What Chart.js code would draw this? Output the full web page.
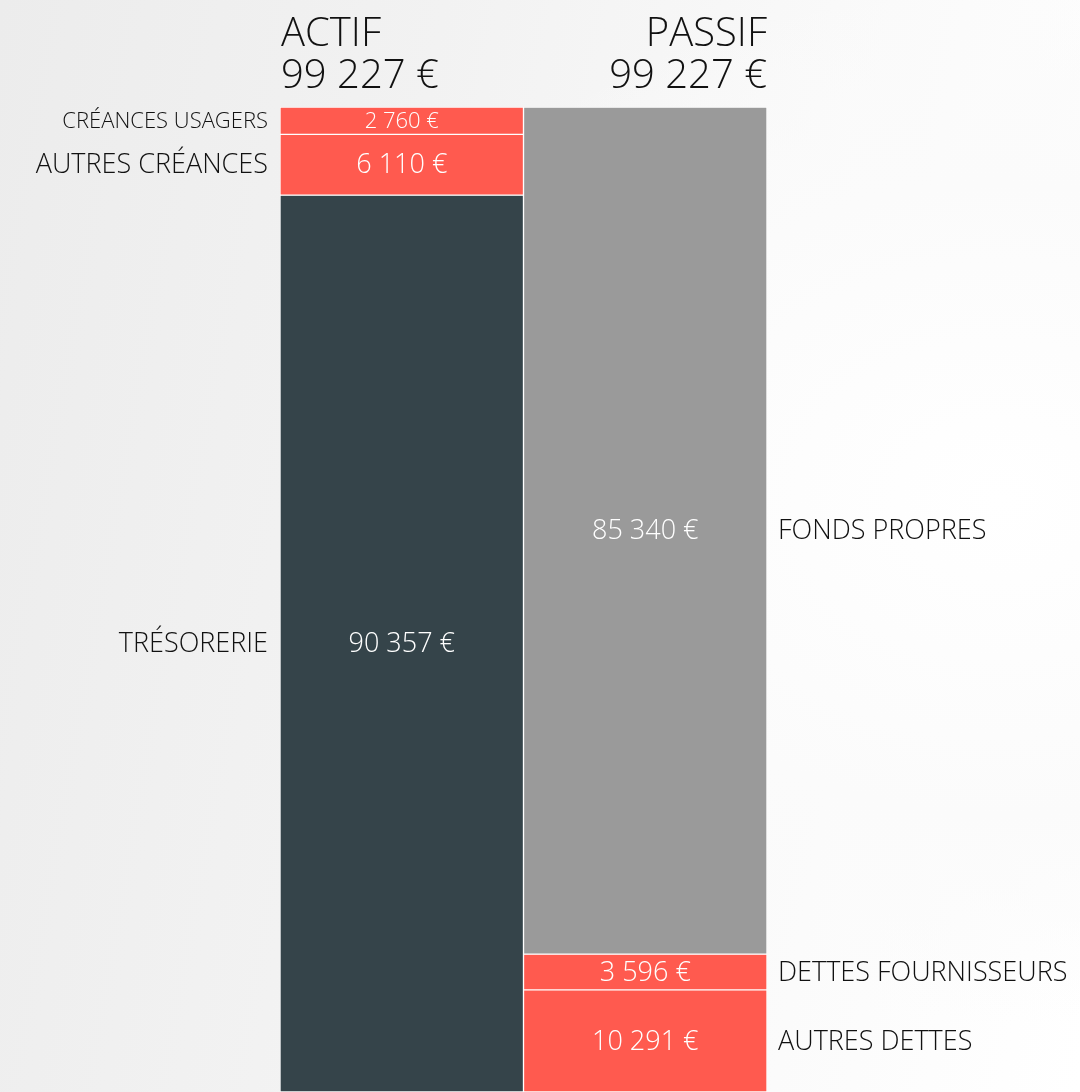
<!DOCTYPE html>
<html>
<head>
<meta charset="utf-8">
<script src="https://cdn.jsdelivr.net/npm/chart.js@4/dist/chart.umd.min.js"></script>
<style>
  html, body { margin: 0; padding: 0; }
  body {
    width: 1080px; height: 1092px; overflow: hidden;
    background:
      radial-gradient(ellipse 900px 700px at 1000px 500px, #ffffff 0%, #fbfbfb 45%, rgba(255,255,255,0) 75%),
      linear-gradient(100deg, #ececec 0%, #f2f2f2 35%, #fafafa 70%, #ffffff 100%);
  }
  #wrap { position: relative; width: 1080px; height: 1092px; }
</style>
</head>
<body>
<div id="wrap"><canvas id="c" width="1080" height="1092"></canvas></div>
<script>
// ---- Data ----
const categories = ['ACTIF', 'PASSIF'];
const totals = [99227, 99227];
const actifLabels = ['CRÉANCES USAGERS', 'AUTRES CRÉANCES', 'TRÉSORERIE'];
const actifValues = [2760, 6110, 90357];
const passifLabels = ['FONDS PROPRES', 'DETTES FOURNISSEURS', 'AUTRES DETTES'];
const passifValues = [85340, 3596, 10291];

// ---- Styles ----
const RED = '#FF5A4F', DARK = '#35444A', GREY = '#9A9A9A';
const actifColors = [RED, RED, DARK];
const passifColors = [GREY, RED, RED];
const actifFont = [22, 27, 27];
const passifFont = [27, 27, 27];
const FONT = '"Open Sans", "Noto Sans", sans-serif';

function fmt(v) {
  return String(v).replace(/\B(?=(\d{3})+(?!\d))/g, '\u00A0') + '\u00A0€';
}

const datasets = [];
actifValues.forEach((v, i) => datasets.push({
  label: actifLabels[i], data: [v, null], side: 0, fs: actifFont[i],
  backgroundColor: actifColors[i]
}));
passifValues.forEach((v, i) => datasets.push({
  label: passifLabels[i], data: [null, v], side: 1, fs: passifFont[i],
  backgroundColor: passifColors[i]
}));
datasets.forEach(d => {
  d.borderColor = '#ffffff';
  d.borderWidth = 1;
  d.borderSkipped = false;
  d.categoryPercentage = 1;
  d.barPercentage = 1;
});

const labelPlugin = {
  id: 'labels',
  afterDatasetsDraw(chart) {
    const ctx = chart.ctx;
    ctx.save();
    // titles
    ctx.fillStyle = '#111';
    ctx.font = '300 40px ' + FONT;
    ctx.textBaseline = 'alphabetic';
    const x0 = chart.getDatasetMeta(0).data[0];
    const x1 = chart.getDatasetMeta(actifValues.length).data[1];
    ctx.textAlign = 'left';
    const lx = x0.x - x0.width / 2 + 1;
    ctx.fillText(categories[0], lx, 46);
    ctx.fillText(fmt(totals[0]), lx, 88);
    ctx.textAlign = 'right';
    const rx = x1.x + x1.width / 2;
    ctx.fillText(categories[1], rx, 46);
    ctx.fillText(fmt(totals[1]), rx, 88);

    chart.data.datasets.forEach((ds, di) => {
      const el = chart.getDatasetMeta(di).data[ds.side];
      if (!el) return;
      const top = Math.min(el.y, el.base), bot = Math.max(el.y, el.base);
      const cy = (top + bot) / 2;
      ctx.textBaseline = 'middle';
      ctx.font = '300 ' + ds.fs + 'px ' + FONT;
      ctx.fillStyle = '#ffffff';
      ctx.textAlign = 'center';
      ctx.fillText(fmt(ds.data[ds.side]), el.x, cy + 1);
      ctx.fillStyle = '#111';
      if (ds.side === 0) {
        ctx.textAlign = 'right';
        ctx.fillText(ds.label, el.x - el.width / 2 - 12, cy + 1);
      } else {
        ctx.textAlign = 'left';
        ctx.fillText(ds.label, el.x + el.width / 2 + 11, cy + 1);
      }
    });
    ctx.restore();
  }
};

new Chart(document.getElementById('c'), {
  type: 'bar',
  data: { labels: categories, datasets },
  options: {
    responsive: false,
    animation: false,
    layout: { padding: { left: 280, right: 313, top: 107, bottom: 0 } },
    plugins: { legend: { display: false }, tooltip: { enabled: false } },
    scales: {
      x: { stacked: true, display: false },
      y: { stacked: true, display: false, reverse: true, min: 0, max: totals[0] }
    }
  },
  plugins: [labelPlugin]
});
</script>
</body>
</html>
